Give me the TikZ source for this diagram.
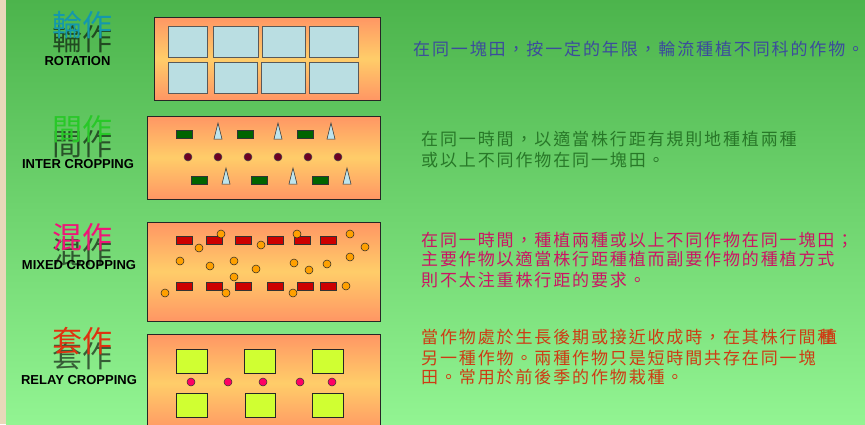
\documentclass[tikz,border=0pt]{standalone}
\usepackage{fontspec}
\setmainfont{Liberation Sans}
\newfontfamily\cjk{Noto Sans CJK TC}
\newfontfamily\cjkt[LetterSpace=11]{Noto Sans CJK TC}
\definecolor{bgtop}{RGB}{76,180,76}
\definecolor{bgbot}{RGB}{146,244,146}
\definecolor{beige}{RGB}{232,216,186}
\definecolor{orgE}{RGB}{255,150,100}
\definecolor{orgM}{RGB}{255,205,105}
\definecolor{sqblue}{RGB}{186,222,226}
\definecolor{dgreen}{RGB}{0,100,0}
\definecolor{triblue}{RGB}{190,228,236}
\definecolor{maroon}{RGB}{110,0,35}
\definecolor{redr}{RGB}{204,0,0}
\definecolor{orc}{RGB}{255,160,0}
\definecolor{lime}{RGB}{208,255,50}
\definecolor{pinkc}{RGB}{255,0,100}
\definecolor{cteal}{RGB}{20,152,172}
\definecolor{cgreen}{RGB}{40,200,40}
\definecolor{cmag}{RGB}{240,20,120}
\definecolor{cred}{RGB}{222,50,16}
\definecolor{tblue}{RGB}{60,76,156}
\definecolor{tgreen}{RGB}{40,120,40}
\definecolor{tmag}{RGB}{204,20,100}
\definecolor{tred}{RGB}{206,60,20}
\tikzset{
  field/.style={draw=black!85, line width=0.8pt, top color=orgE, bottom color=orgE, middle color=orgM},
  sq/.style={draw=black!65, line width=0.7pt, fill=sqblue},
  grect/.style={draw=black!80, line width=0.5pt, fill=dgreen},
  tri/.style={draw=black!80, line width=0.5pt, fill=triblue},
  mdot/.style={draw=black!70, line width=0.5pt, fill=maroon},
  rrect/.style={draw=black!80, line width=0.5pt, fill=redr},
  odot/.style={draw=black!85, line width=0.5pt, fill=orc},
  lsq/.style={draw=black!85, line width=0.7pt, fill=lime},
  pdot/.style={draw=black!80, line width=0.5pt, fill=pinkc},
  big/.style={inner sep=0, font=\cjk\fontsize{30}{30}\selectfont},
  shad/.style={big, text=black, opacity=0.6},
  eng/.style={inner sep=0, font=\bfseries\fontsize{13}{13}\selectfont},
  desc/.style={inner sep=0, anchor=west, font=\cjkt\fontsize{17}{18}\selectfont}
}
\begin{document}
\begin{tikzpicture}[x=1pt,y=-1pt]
\useasboundingbox (0,0) rectangle (865,424);
% background
\fill[beige] (0,0) rectangle (7,424);
\fill[top color=bgtop, bottom color=bgbot] (6,0) rectangle (865,424);

% ---------- ROTATION ----------
\node[shad] (s1) at (82,39) {輪作};
\node[big, text=cteal] (l1) at (82,24.5) {輪作};
\node[eng] (e1) at (77.5,61.5) {ROTATION};
\draw[field] (154,17) rectangle (380,100);
\foreach \a/\b in {168/207,213/258,262/305,309/358}
  \draw[sq] (\a,26) rectangle (\b,57);
\foreach \a/\b in {168/207,214/257,261/305,309/358}
  \draw[sq] (\a,62) rectangle (\b,93);
\node[desc, text=tblue] (t1) at (413,49) {在同一塊田，按一定的年限，輪流種植不同科的作物。};

% ---------- INTER CROPPING ----------
\node[shad] (s2) at (82,144) {間作};
\node[big, text=cgreen] (l2) at (82,129.5) {間作};
\node[eng] (e2) at (78,164.5) {INTER CROPPING};
\draw[field] (147,116) rectangle (380,199);
\foreach \a in {176,237,297}
  \draw[grect] (\a,130) rectangle +(16,8);
\foreach \a in {191,251,312}
  \draw[grect] (\a,176) rectangle +(16,8);
\foreach \c in {218,278,331}
  \draw[tri] (\c,123) -- (\c+4,139) -- (\c-4,139) -- cycle;
\foreach \c in {226,293,347}
  \draw[tri] (\c,168) -- (\c+4,184) -- (\c-4,184) -- cycle;
\foreach \c in {188,218,248,278,308,338}
  \draw[mdot] (\c,157) circle (4);
\node[desc, text=tgreen] (t2a) at (421,139) {在同一時間，以適當株行距有規則地種植兩種};
\node[desc, text=tgreen] (t2b) at (421,160.5) {或以上不同作物在同一塊田。};

% ---------- MIXED CROPPING ----------
\node[shad] (s3) at (82,252) {混作};
\node[big, text=cmag] (l3) at (82,237.5) {混作};
\node[eng] (e3) at (79,265.5) {MIXED CROPPING};
\draw[field] (147,222) rectangle (380,321);
\foreach \a in {176,206,235,267,294,320}
  \draw[rrect] (\a,236) rectangle +(16,8);
\foreach \a in {176,206,235,267,297,320}
  \draw[rrect] (\a,282) rectangle +(16,8);
\foreach \p/\q in {221/234,199/248,261/245,297/234,350/234,365/247,180/261,210/266,234/261,256/269,294/263,309/270,327/264,350/257,234/277,346/286,165/293,226/293,293/293}
  \draw[odot] (\p,\q) circle (4);
\node[desc, text=tmag] (t3a) at (421,240) {在同一時間，種植兩種或以上不同作物在同一塊田；};
\node[desc, text=tmag] (t3b) at (421,259) {主要作物以適當株行距種植而副要作物的種植方式};
\node[desc, text=tmag] (t3c) at (421,280) {則不太注重株行距的要求。};

% ---------- RELAY CROPPING ----------
\node[shad] (s4) at (82,356) {套作};
\node[big, text=cred] (l4) at (82,341.5) {套作};
\node[eng] (e4) at (79,380.5) {RELAY CROPPING};
\draw[field] (147,334) rectangle (380,432);
\foreach \a/\b in {176/207,244/275,312/343}
  \draw[lsq] (\a,349) rectangle (\b,373);
\foreach \a/\b in {176/207,245/275,312/343}
  \draw[lsq] (\a,393) rectangle (\b,417);
\foreach \c in {191,228,263,300,332}
  \draw[pdot] (\c,382) circle (4);
\node[desc, text=tred] (t4a) at (421,337.5) {當作物處於生長後期或接近收成時，在其株行間種\kern-14pt植};
\node[desc, text=tred] (t4b) at (421,358) {另一種作物。兩種作物只是短時間共存在同一塊};
\node[desc, text=tred] (t4c) at (421,377) {田。常用於前後季的作物栽種。};
\end{tikzpicture}
\end{document}
